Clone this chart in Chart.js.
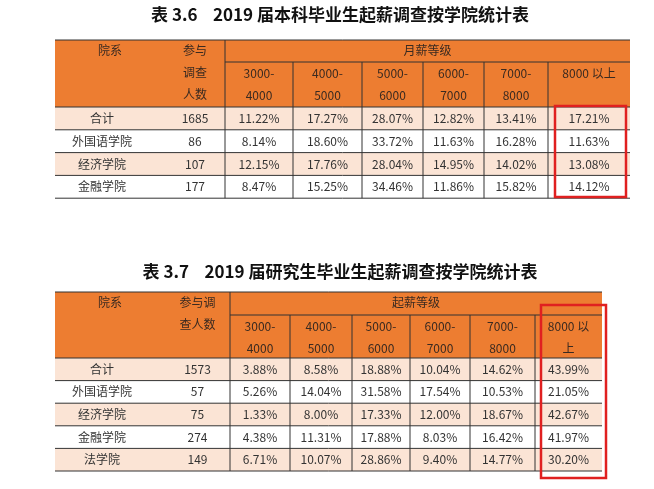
<!DOCTYPE html>
<html>
<head>
<meta charset="utf-8">
<script src="https://cdn.jsdelivr.net/npm/chart.js@4"></script>
<style>
  html, body { margin: 0; padding: 0; background: #fff; }
  #wrap { width: 654px; height: 489px; }
</style>
</head>
<body>
<div id="wrap"><canvas id="tbl"></canvas></div>
<script>
// 表 3.6 本科
const title1 = '表 3.6    2019 届本科毕业生起薪调查按学院统计表';
const colleges1 = ['合计', '外国语学院', '经济学院', '金融学院'];
const counts1 = ['1685', '86', '107', '177'];
const ranges1 = [['3000-', '4000'], ['4000-', '5000'], ['5000-', '6000'], ['6000-', '7000'], ['7000-', '8000'], ['8000 以上', '']];
const rates1 = [
  ['11.22%', '17.27%', '28.07%', '12.82%', '13.41%', '17.21%'],
  ['8.14%', '18.60%', '33.72%', '11.63%', '16.28%', '11.63%'],
  ['12.15%', '17.76%', '28.04%', '14.95%', '14.02%', '13.08%'],
  ['8.47%', '15.25%', '34.46%', '11.86%', '15.82%', '14.12%']
];

// 表 3.7 研究生
const title2 = '表 3.7    2019 届研究生毕业生起薪调查按学院统计表';
const colleges2 = ['合计', '外国语学院', '经济学院', '金融学院', '法学院'];
const counts2 = ['1573', '57', '75', '274', '149'];
const ranges2 = [['3000-', '4000'], ['4000-', '5000'], ['5000-', '6000'], ['6000-', '7000'], ['7000-', '8000'], ['8000 以', '上']];
const rates2 = [
  ['3.88%', '8.58%', '18.88%', '10.04%', '14.62%', '43.99%'],
  ['5.26%', '14.04%', '31.58%', '17.54%', '10.53%', '21.05%'],
  ['1.33%', '8.00%', '17.33%', '12.00%', '18.67%', '42.67%'],
  ['4.38%', '11.31%', '17.88%', '8.03%', '16.42%', '41.97%'],
  ['6.71%', '10.07%', '28.86%', '9.40%', '14.77%', '30.20%']
];

const ORANGE = '#ed7d31';
const BAND = '#fbe4d5';
const FONT = '"Noto Sans CJK SC", "Noto Sans", sans-serif';

const layouts = [
  {
    title: title1, titleY: 15, colleges: colleges1, counts: counts1, ranges: ranges1, rates: rates1,
    headTop: 40, head2: 62, bodyTop: 107, rowH: 22.8,
    cols: [55, 165, 225, 293, 362, 423, 484, 548, 630],
    headA: '参与', headB: ['调查', '人数'], group: '月薪等级',
    box: [555, 106, 626, 197]
  },
  {
    title: title2, titleY: 272, colleges: colleges2, counts: counts2, ranges: ranges2, rates: rates2,
    headTop: 292, head2: 315, bodyTop: 358, rowH: 22.6,
    cols: [55, 165, 230, 290, 352, 410, 470, 535, 602],
    headA: '参与调', headB: ['查人数'], group: '起薪等级',
    box: [541, 305, 606, 478]
  }
];

const tablePlugin = {
  id: 'tablePlugin',
  afterDraw(chart) {
    const ctx = chart.ctx;
    const X = v => chart.scales.x.getPixelForValue(v);
    const Y = v => chart.scales.y.getPixelForValue(v);
    ctx.save();
    layouts.forEach(t => {
      const c = t.cols;
      const n = t.colleges.length;
      const bottom = t.bodyTop + n * t.rowH;
      // title
      ctx.fillStyle = '#111';
      ctx.font = 'bold 17px ' + FONT;
      ctx.textAlign = 'center';
      ctx.textBaseline = 'middle';
      ctx.fillText(t.title, X(340), Y(t.titleY));
      // header fill
      ctx.fillStyle = ORANGE;
      ctx.fillRect(X(c[0]), Y(t.headTop), X(c[8]) - X(c[0]), Y(t.bodyTop) - Y(t.headTop));
      // band rows
      for (let i = 0; i < n; i++) {
        if (i % 2 === 0) {
          ctx.fillStyle = BAND;
          ctx.fillRect(X(c[0]), Y(t.bodyTop + i * t.rowH), X(c[8]) - X(c[0]), t.rowH);
        }
      }
      // lines
      ctx.strokeStyle = '#333';
      ctx.lineWidth = 1;
      const line = (x1, y1, x2, y2) => {
        ctx.beginPath(); ctx.moveTo(X(x1), Y(y1)); ctx.lineTo(X(x2), Y(y2)); ctx.stroke();
      };
      line(c[0], t.headTop, c[8], t.headTop);
      line(c[2], t.head2, c[8], t.head2);
      for (let i = 0; i <= n; i++) line(c[0], t.bodyTop + i * t.rowH, c[8], t.bodyTop + i * t.rowH);
      line(c[2], t.headTop, c[2], bottom);
      for (let j = 3; j < 8; j++) line(c[j], t.head2, c[j], bottom);
      // header text
      ctx.fillStyle = '#3a2a20';
      ctx.font = '12px ' + FONT;
      const mid = (a, b) => (X(a) + X(b)) / 2;
      ctx.fillText('院系', mid(c[0], c[1]), Y(t.headTop + 10));
      ctx.fillText(t.headA, mid(c[1], c[2]), Y(t.headTop + 10));
      t.headB.forEach((s, k) => ctx.fillText(s, mid(c[1], c[2]), Y(t.headTop + 32 + k * 22)));
      ctx.fillText(t.group, mid(c[2], c[8]), Y(t.headTop + 10));
      t.ranges.forEach((r, j) => {
        ctx.fillText(r[0], mid(c[j + 2], c[j + 3]), Y(t.head2 + 11));
        if (r[1]) ctx.fillText(r[1], mid(c[j + 2], c[j + 3]), Y(t.head2 + 33));
      });
      // body text
      ctx.fillStyle = '#333';
      for (let i = 0; i < n; i++) {
        const yc = Y(t.bodyTop + (i + 0.5) * t.rowH);
        ctx.fillText(t.colleges[i], mid(c[0], c[1]) - 8, yc);
        ctx.fillText(t.counts[i], mid(c[1], c[2]), yc);
        t.rates[i].forEach((v, j) => ctx.fillText(v, mid(c[j + 2], c[j + 3]), yc));
      }
      // red box
      ctx.strokeStyle = '#e02020';
      ctx.lineWidth = 2.5;
      const b = t.box;
      ctx.strokeRect(X(b[0]), Y(b[1]), X(b[2]) - X(b[0]), Y(b[3]) - Y(b[1]));
    });
    ctx.restore();
  }
};

new Chart(document.getElementById('tbl'), {
  type: 'scatter',
  data: { datasets: [{ data: [], pointRadius: 0 }] },
  options: {
    responsive: true,
    maintainAspectRatio: false,
    animation: false,
    layout: { padding: 0 },
    plugins: { legend: { display: false }, tooltip: { enabled: false } },
    scales: {
      x: { type: 'linear', min: 0, max: 654, display: false },
      y: { type: 'linear', min: 0, max: 489, reverse: true, display: false }
    }
  },
  plugins: [tablePlugin]
});
</script>
</body>
</html>
